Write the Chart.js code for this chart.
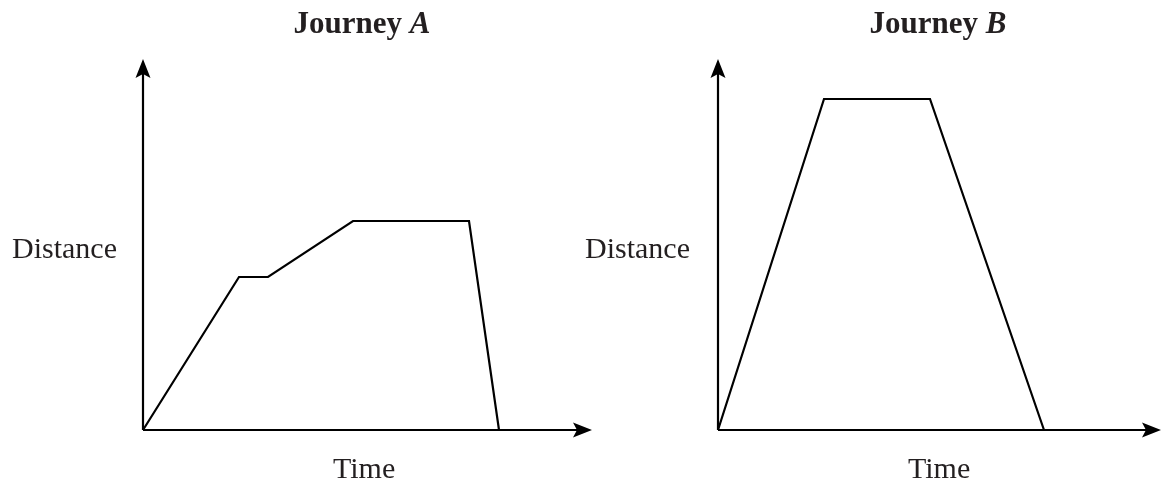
<!DOCTYPE html>
<html>
<head>
<meta charset="utf-8">
<script src="https://cdn.jsdelivr.net/npm/chart.js@4"></script>
<style>
  html, body { margin: 0; padding: 0; background: #fff; }
  body { width: 1162px; height: 485px; position: relative; overflow: hidden; }
  .box { position: absolute; top: 0; height: 485px; }
  .lbl { position: absolute; font-family: "Liberation Serif", "Times New Roman", serif; color: #231f20; font-size: 30px; line-height: 30px; white-space: nowrap; }
  .ttl { font-size: 31px; line-height: 31px; font-weight: bold; text-align: center; width: 300px; }
</style>
</head>
<body>
<div class="box" style="left:0; width:600px;"><canvas id="chartA"></canvas></div>
<div class="box" style="left:580px; width:582px;"><canvas id="chartB"></canvas></div>

<div class="lbl ttl" style="left:212px; top:7px;">Journey <i>A</i></div>
<div class="lbl ttl" style="left:788px; top:7px;">Journey <i>B</i></div>
<div class="lbl" style="left:12px; top:233px;">Distance</div>
<div class="lbl" style="left:585px; top:233px;">Distance</div>
<div class="lbl" style="left:333px; top:453px;">Time</div>
<div class="lbl" style="left:908px; top:453px;">Time</div>

<script>
// journey A (time, distance)
const timeA = [0, 9.6, 12.5, 21.0, 32.6, 35.6];
const distA = [0, 15.3, 15.3, 20.9, 20.9, 0];
// journey B
const timeB = [0, 10.6, 21.2, 32.6];
const distB = [0, 33.1, 33.1, 0];
// axis ends (where the arrow tips sit)
const timeMaxA = 44.9;
const timeMaxB = 44.3;
const distMax = 37.1;

// draws both axes as arrows starting at the origin
const arrowAxes = {
  id: 'arrowAxes',
  afterDraw(chart) {
    const ctx = chart.ctx;
    const x = chart.scales.x, y = chart.scales.y;
    const x0 = x.getPixelForValue(0), y0 = y.getPixelForValue(0);
    const xe = x.getPixelForValue(x.max), ye = y.getPixelForValue(y.max);
    const len = 19, half = 7.5, notch = 15;
    ctx.save();
    ctx.strokeStyle = '#000';
    ctx.fillStyle = '#000';
    ctx.lineWidth = 2.2;
    ctx.beginPath();
    ctx.moveTo(x0, y0); ctx.lineTo(xe - 10, y0);
    ctx.moveTo(x0, y0); ctx.lineTo(x0, ye + 10);
    ctx.stroke();
    // x arrow head
    ctx.beginPath();
    ctx.moveTo(xe, y0);
    ctx.lineTo(xe - len, y0 - half);
    ctx.lineTo(xe - notch, y0);
    ctx.lineTo(xe - len, y0 + half);
    ctx.closePath();
    ctx.fill();
    // y arrow head
    ctx.beginPath();
    ctx.moveTo(x0, ye);
    ctx.lineTo(x0 - half, ye + len);
    ctx.lineTo(x0, ye + notch);
    ctx.lineTo(x0 + half, ye + len);
    ctx.closePath();
    ctx.fill();
    ctx.restore();
  }
};

function makeChart(id, times, dists, tMax, pad) {
  new Chart(document.getElementById(id), {
    type: 'line',
    data: {
      datasets: [{
        data: times.map((t, i) => ({ x: t, y: dists[i] })),
        borderColor: '#000',
        borderWidth: 2.2,
        pointRadius: 0,
        tension: 0,
        fill: false,
        clip: false
      }]
    },
    options: {
      responsive: true,
      maintainAspectRatio: false,
      animation: false,
      layout: { padding: pad },
      scales: {
        x: { type: 'linear', min: 0, max: tMax, display: false },
        y: { type: 'linear', min: 0, max: distMax, display: false }
      },
      plugins: {
        legend: { display: false },
        tooltip: { enabled: false }
      }
    },
    plugins: [arrowAxes]
  });
}

makeChart('chartA', timeA, distA, timeMaxA, { left: 143, right: 8, top: 59, bottom: 55 });
makeChart('chartB', timeB, distB, timeMaxB, { left: 138, right: 1, top: 59, bottom: 55 });
</script>
</body>
</html>
